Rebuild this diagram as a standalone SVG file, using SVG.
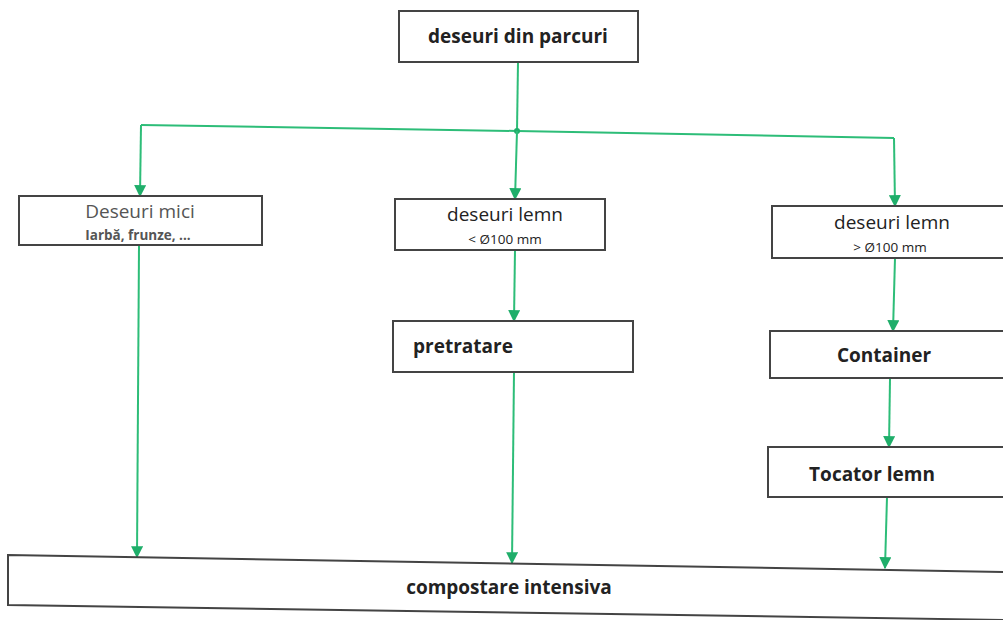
<svg xmlns="http://www.w3.org/2000/svg" width="1003" height="620" viewBox="0 0 1003 620">
<style>
.box{fill:#fff;stroke:#444;stroke-width:2}
.t{font-family:"Open Sans","Liberation Sans",sans-serif;font-size:19px;fill:#222;text-anchor:middle}
.b{font-weight:bold}
.g{fill:#555}
.s{font-size:13.5px}
.c{fill:none;stroke:#2dbd78;stroke-width:2}
</style>
<defs>
<marker id="ah" viewBox="0 0 10 10" refX="9" refY="5" markerWidth="6" markerHeight="6" orient="auto" markerUnits="strokeWidth">
<path d="M0,0 L10,5 L0,10 z" fill="#1fae6a"/>
</marker>
</defs>
<g id="connectors">
<path class="c" d="M518,62 L517,131"/>
<path class="c" d="M141,125 L517,131 L894,138"/>
<circle cx="517" cy="131" r="3" fill="#1fae6a"/>
<path class="c" d="M141,125 L140,196" marker-end="url(#ah)"/>
<path class="c" d="M517,131 L515,199" marker-end="url(#ah)"/>
<path class="c" d="M894,138 L895,206" marker-end="url(#ah)"/>
<path class="c" d="M515,250 L514,321" marker-end="url(#ah)"/>
<path class="c" d="M895,258 L893,331" marker-end="url(#ah)"/>
<path class="c" d="M890,379 L889,447" marker-end="url(#ah)"/>
<path class="c" d="M887,497 L885,568" marker-end="url(#ah)"/>
<path class="c" d="M139,246 L137,557" marker-end="url(#ah)"/>
<path class="c" d="M514,372 L512,563" marker-end="url(#ah)"/>
</g>
<g id="n-top">
<rect class="box" x="399" y="11" width="239" height="51"/>
<text class="t b" x="518" y="43">deseuri din parcuri</text>
</g>
<g id="n-mici">
<rect class="box" x="19" y="196" width="243" height="49"/>
<text class="t g" x="140" y="218" font-size="20">Deseuri mici</text>
<text class="t g s b" x="138" y="240">Iarbă, frunze, ...</text>
</g>
<g id="n-lemn-small">
<rect class="box" x="395" y="199" width="210" height="51"/>
<text class="t" x="505" y="221" fill="#333" font-size="20">deseuri lemn</text>
<text class="t s" x="505" y="244">&lt; Ø100 mm</text>
</g>
<g id="n-lemn-big">
<rect class="box" x="772" y="206" width="240" height="52"/>
<text class="t" x="892" y="229" fill="#333" font-size="20">deseuri lemn</text>
<text class="t s" x="890" y="252">&gt; Ø100 mm</text>
</g>
<g id="n-pretratare">
<rect class="box" x="393" y="321" width="240" height="51"/>
<text class="t b" x="463" y="353">pretratare</text>
</g>
<g id="n-container">
<rect class="box" x="770" y="331" width="240" height="47"/>
<text class="t b" x="884" y="362">Container</text>
</g>
<g id="n-tocator">
<rect class="box" x="768" y="447" width="242" height="50"/>
<text class="t b" x="872" y="481">Tocator lemn</text>
</g>
<g id="n-compost">
<path class="box" d="M8,555 L1010,572 L1010,620 L8,605 Z"/>
<text class="t b" x="509" y="594">compostare intensiva</text>
</g>
</svg>
